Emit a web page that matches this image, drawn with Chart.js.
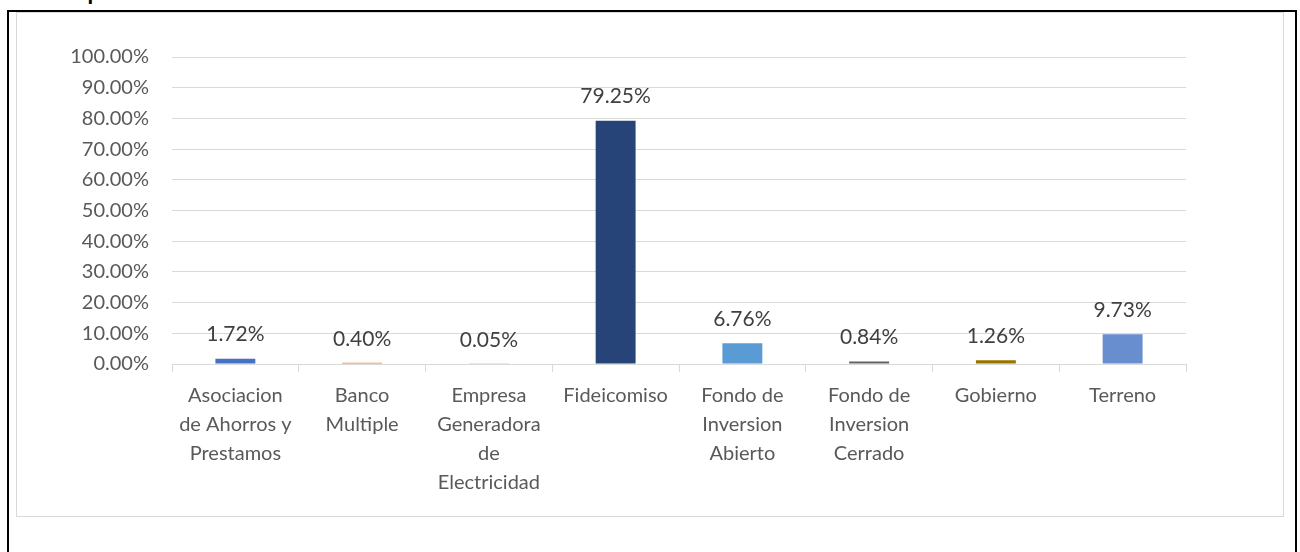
<!DOCTYPE html>
<html>
<head>
<meta charset="utf-8">
<script src="https://cdn.jsdelivr.net/npm/chart.js@4.4.1/dist/chart.umd.min.js"></script>
<style>
  html, body { margin: 0; padding: 0; background: #fff; overflow: hidden; }
  body { width: 1300px; height: 552px; position: relative; }
  #title {
    position: absolute; left: 28px; top: -23px;
    font: bold 23px Lato, sans-serif; color: #000; white-space: nowrap;
  }
  #outer {
    position: absolute; left: 7px; top: 10px; width: 1286px; height: 600px;
    border-left: 2px solid #000; border-top: 2px solid #000; border-right: 2px solid #000;
  }
  #frame {
    position: absolute; left: 16px; top: 12px; width: 1266px; height: 503px;
    border: 1px solid #d9d9d9; background: #fff;
  }
  #frame canvas { display: block; }
</style>
</head>
<body>
<div id="title">Por Tipo de Emisor</div>
<div id="outer"></div>
<div id="frame"><canvas id="my-chart" width="1266" height="503"></canvas></div>

<script>
'use strict';

// Data
let categories = [
  ['Asociacion', 'de Ahorros y', 'Prestamos'],
  ['Banco', 'Multiple'],
  ['Empresa', 'Generadora', 'de', 'Electricidad'],
  ['Fideicomiso'],
  ['Fondo de', 'Inversion', 'Abierto'],
  ['Fondo de', 'Inversion', 'Cerrado'],
  ['Gobierno'],
  ['Terreno']
];
let shares = [1.72, 0.40, 0.05, 79.25, 6.76, 0.84, 1.26, 9.73];
let yTicks = [0, 10, 20, 30, 40, 50, 60, 70, 80, 90, 100];
let barColors = ['#4472c4', '#ed7d31', '#a5a5a5', '#264478', '#5b9bd5', '#636363', '#997300', '#698ed0'];

// Labels above each bar
let barLabels = {
  id: 'barLabels',
  afterDatasetsDraw(chart) {
    let ctx = chart.ctx;
    let meta = chart.getDatasetMeta(0);
    ctx.save();
    ctx.font = '21px Lato, sans-serif';
    ctx.fillStyle = '#404040';
    ctx.textAlign = 'center';
    ctx.textBaseline = 'middle';
    meta.data.forEach(function (bar, i) {
      ctx.fillText(shares[i].toFixed(2) + '%', bar.x, bar.y - 24);
    });
    ctx.restore();
  }
};

let canvasElem = document.getElementById('my-chart');

new Chart(canvasElem, {
  type: 'bar',
  data: {
    labels: categories,
    datasets: [{
      data: shares,
      backgroundColor: barColors,
      borderWidth: 0,
      barPercentage: 0.63,
      categoryPercentage: 0.5
    }]
  },
  options: {
    responsive: false,
    animation: false,
    layout: { padding: { top: 44, right: 97, left: 0, bottom: 0 } },
    plugins: {
      legend: { display: false },
      tooltip: { enabled: false }
    },
    scales: {
      x: {
        afterFit(scale) { scale.height = 152; },
        grid: {
          offset: true,
          drawOnChartArea: false,
          drawTicks: true,
          tickLength: 8,
          color: '#d9d9d9'
        },
        border: { display: true, color: '#d9d9d9', width: 1 },
        ticks: {
          color: '#595959',
          padding: 9,
          maxRotation: 0,
          autoSkip: false,
          font: { family: 'Lato, sans-serif', size: 20, lineHeight: 1.45 }
        }
      },
      y: {
        min: 0,
        max: 100,
        afterFit(scale) { scale.width = 155; },
        afterBuildTicks(scale) {
          scale.ticks = yTicks.map(function (v) { return { value: v }; });
        },
        grid: { color: '#d9d9d9', drawTicks: false },
        border: { display: false },
        ticks: {
          color: '#595959',
          padding: 23,
          font: { family: 'Lato, sans-serif', size: 20 },
          callback: function (v) { return v.toFixed(2) + '%'; }
        }
      }
    }
  },
  plugins: [barLabels]
});
</script>
</body>
</html>
